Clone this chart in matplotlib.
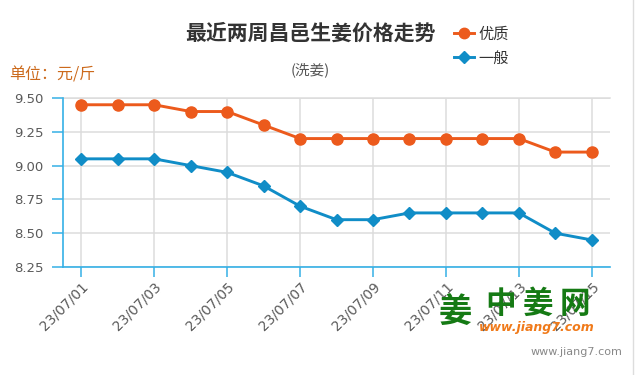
import matplotlib
matplotlib.use("Agg")
import matplotlib.pyplot as plt
from matplotlib.lines import Line2D

plt.rcParams["font.family"] = ["Noto Sans CJK SC", "DejaVu Sans"]

# ── Daten ─────────────────────────────────────────────────────────────────────
dates = ["23/07/01", "23/07/02", "23/07/03", "23/07/04", "23/07/05",
         "23/07/06", "23/07/07", "23/07/08", "23/07/09", "23/07/10",
         "23/07/11", "23/07/12", "23/07/13", "23/07/14", "23/07/15"]
premium = [9.45, 9.45, 9.45, 9.40, 9.40, 9.30, 9.20, 9.20, 9.20, 9.20,
           9.20, 9.20, 9.20, 9.10, 9.10]
normal = [9.05, 9.05, 9.05, 9.00, 8.95, 8.85, 8.70, 8.60, 8.60, 8.65,
          8.65, 8.65, 8.65, 8.50, 8.45]
y_ticks = [8.25, 8.50, 8.75, 9.00, 9.25, 9.50]
series_names = ["优质", "一般"]

ORANGE = "#ec5a1c"
BLUE = "#108dc7"
AXIS_BLUE = "#35b0e6"
GRID = "#dcdcdc"
LABEL = "#5a5a5a"

fig = plt.figure(figsize=(6.35, 3.75), dpi=100, facecolor="white")
ax = fig.add_axes([63 / 635, 1 - 267 / 375, (610 - 63) / 635, (267 - 98) / 375])

x = list(range(len(dates)))
ax.plot(x, premium, color=ORANGE, linewidth=2.1, marker="o", markersize=8,
        zorder=3, clip_on=False)
ax.plot(x, normal, color=BLUE, linewidth=2.1, marker="D", markersize=6.5,
        zorder=3, clip_on=False)

ax.set_xlim(-0.5, len(dates) - 0.5)
ax.set_ylim(8.25, 9.50)
ax.set_yticks(y_ticks)
ax.set_yticklabels([f"{v:.2f}" for v in y_ticks], family="DejaVu Sans")
ax.set_xticks(x[::2])
ax.set_xticklabels(dates[::2], rotation=45, ha="right", rotation_mode="anchor",
                   family="DejaVu Sans")

ax.grid(True, color=GRID, linewidth=1.1)
ax.set_axisbelow(True)
for side in ("top", "right"):
    ax.spines[side].set_visible(False)
ax.spines["left"].set_color(AXIS_BLUE)
ax.spines["bottom"].set_color(AXIS_BLUE)
ax.spines["left"].set_linewidth(1.2)
ax.spines["bottom"].set_linewidth(1.2)
ax.axhline(9.50, color=GRID, linewidth=1.1, zorder=1, clip_on=False)

ax.tick_params(axis="y", colors=AXIS_BLUE, labelcolor=LABEL, length=8,
               width=1.1, labelsize=9.5, pad=6)
ax.tick_params(axis="x", colors=AXIS_BLUE, labelcolor=LABEL, length=7,
               width=1.1, labelsize=10, pad=2)

# ── Titel / Beschriftung ─────────────────────────────────────────────────────
fig.text(310 / 635, 1 - 33 / 375, "最近两周昌邑生姜价格走势", ha="center",
         va="center", fontsize=15, fontweight="bold", color="#333333")
fig.text(310 / 635, 1 - 70 / 375, "(洗姜)", ha="center", va="center",
         fontsize=10.5, color="#555555")
fig.text(9 / 635, 1 - 75 / 375, "单位：元/斤", ha="left", va="center",
         fontsize=11.5, color="#cc6a1c")

handles = [
    Line2D([], [], color=ORANGE, linewidth=2.1, marker="o", markersize=7.5),
    Line2D([], [], color=BLUE, linewidth=2.1, marker="D", markersize=6),
]
leg = fig.legend(handles, series_names, loc="upper left",
                 bbox_to_anchor=(446 / 635, 1 - 18 / 375), frameon=False,
                 fontsize=11, handlelength=1.3, handletextpad=0.3,
                 labelspacing=0.45, borderpad=0)
for t in leg.get_texts():
    t.set_color("#333333")

# ── Wasserzeichen ────────────────────────────────────────────────────────────
fig.text(455 / 635, 1 - 312 / 375, "姜", ha="center", va="center",
         fontsize=24, fontweight="bold", color="#157a14")
for cx, ch in zip([501, 538, 575], "中姜网"):
    fig.text(cx / 635, 1 - 304 / 375, ch, ha="center", va="center",
             fontsize=22, fontweight="bold", color="#157a14")
fig.text(537 / 635, 1 - 327 / 375, "www.jiang7.com", ha="center",
         va="center", fontsize=9, fontweight="bold", style="italic",
         color="#f07a1a", family="DejaVu Sans")
fig.text(622 / 635, 1 - 352 / 375, "www.jiang7.com", ha="right",
         va="center", fontsize=8, color="#888888", family="DejaVu Sans")

fig.add_artist(Line2D([633 / 635, 633 / 635], [0, 1], color="#dddddd",
                      linewidth=1, transform=fig.transFigure))

fig.savefig("out.png", dpi=100, facecolor="white")
plt.close(fig)
